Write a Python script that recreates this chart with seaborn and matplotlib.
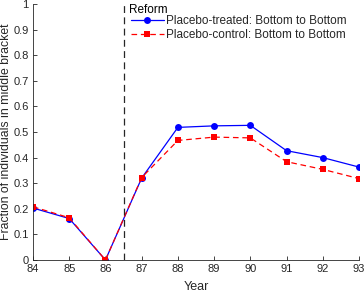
import matplotlib
matplotlib.use("Agg")
import matplotlib.pyplot as plt
import seaborn as sns
import numpy as np

years = [84, 85, 86, 87, 88, 89, 90, 91, 92, 93]
treated = [0.203, 0.162, 0.0, 0.320, 0.518, 0.524, 0.526, 0.427, 0.400, 0.363]
control = [0.208, 0.165, 0.0, 0.322, 0.467, 0.480, 0.477, 0.384, 0.354, 0.318]
label_treated = "Placebo-treated: Bottom to Bottom"
label_control = "Placebo-control: Bottom to Bottom"
reform_year = 86.5
yticks = [0, 0.1, 0.2, 0.3, 0.4, 0.5, 0.6, 0.7, 0.8, 0.9, 1]
yticklabels = ["0", "0.1", "0.2", "0.3", "0.4", "0.5", "0.6", "0.7", "0.8", "0.9", "1"]

sns.set_style("white")
plt.rcParams['font.family'] = ['Liberation Sans', 'DejaVu Sans']
plt.rcParams['font.size'] = 8

gray = (0.15, 0.15, 0.15)
fig = plt.figure(figsize=(3.64, 2.92), dpi=100)
ax = fig.add_axes([33/364, 1-260/292, (359-33)/364, (260-4)/292])

sns.lineplot(x=years, y=treated, ax=ax, color=(0, 0, 1), marker='o', markersize=5,
             markeredgewidth=0, linewidth=0.9, label=label_treated)
sns.lineplot(x=years, y=control, ax=ax, color=(1, 0, 0), marker='s', markersize=5,
             markeredgewidth=0, linewidth=0.9, linestyle=(0, (4.5, 3)), label=label_control)
ax.plot([reform_year, reform_year], [0, 1], color=(0.15, 0.15, 0.15), linewidth=0.9,
        linestyle=(0, (5.5, 3.5)))

ax.set_xlim(84, 93)
ax.set_ylim(0, 1)
ax.set_xticks(years)
ax.set_xticklabels([str(y) for y in years])
ax.set_yticks(yticks)
ax.set_yticklabels(yticklabels)
ax.set_xlabel("Year", color=gray, labelpad=5, fontsize=9)
ax.set_ylabel("Fraction of individuals in middle bracket", color=gray, fontsize=8.8)
ax.yaxis.set_label_coords(-0.064, 0.5)

for s in ['top', 'right']:
    ax.spines[s].set_visible(False)
for s in ['left', 'bottom']:
    ax.spines[s].set_color(gray)
    ax.spines[s].set_linewidth(0.6)
ax.tick_params(direction='in', length=3, width=0.6, colors=gray, labelcolor=gray,
               pad=3, left=True, bottom=True)

ax.text(86.66, 0.963, "Reform", color='black', fontsize=8.5, va='baseline')
leg = ax.legend(loc='upper left', bbox_to_anchor=(0.30, 0.957), frameon=False,
                handlelength=2.8, handletextpad=0.15, labelspacing=0.2,
                borderaxespad=0, borderpad=0, fontsize=8.5)
for t in leg.get_texts():
    t.set_color(gray)

fig.savefig("out.png", dpi=100)
